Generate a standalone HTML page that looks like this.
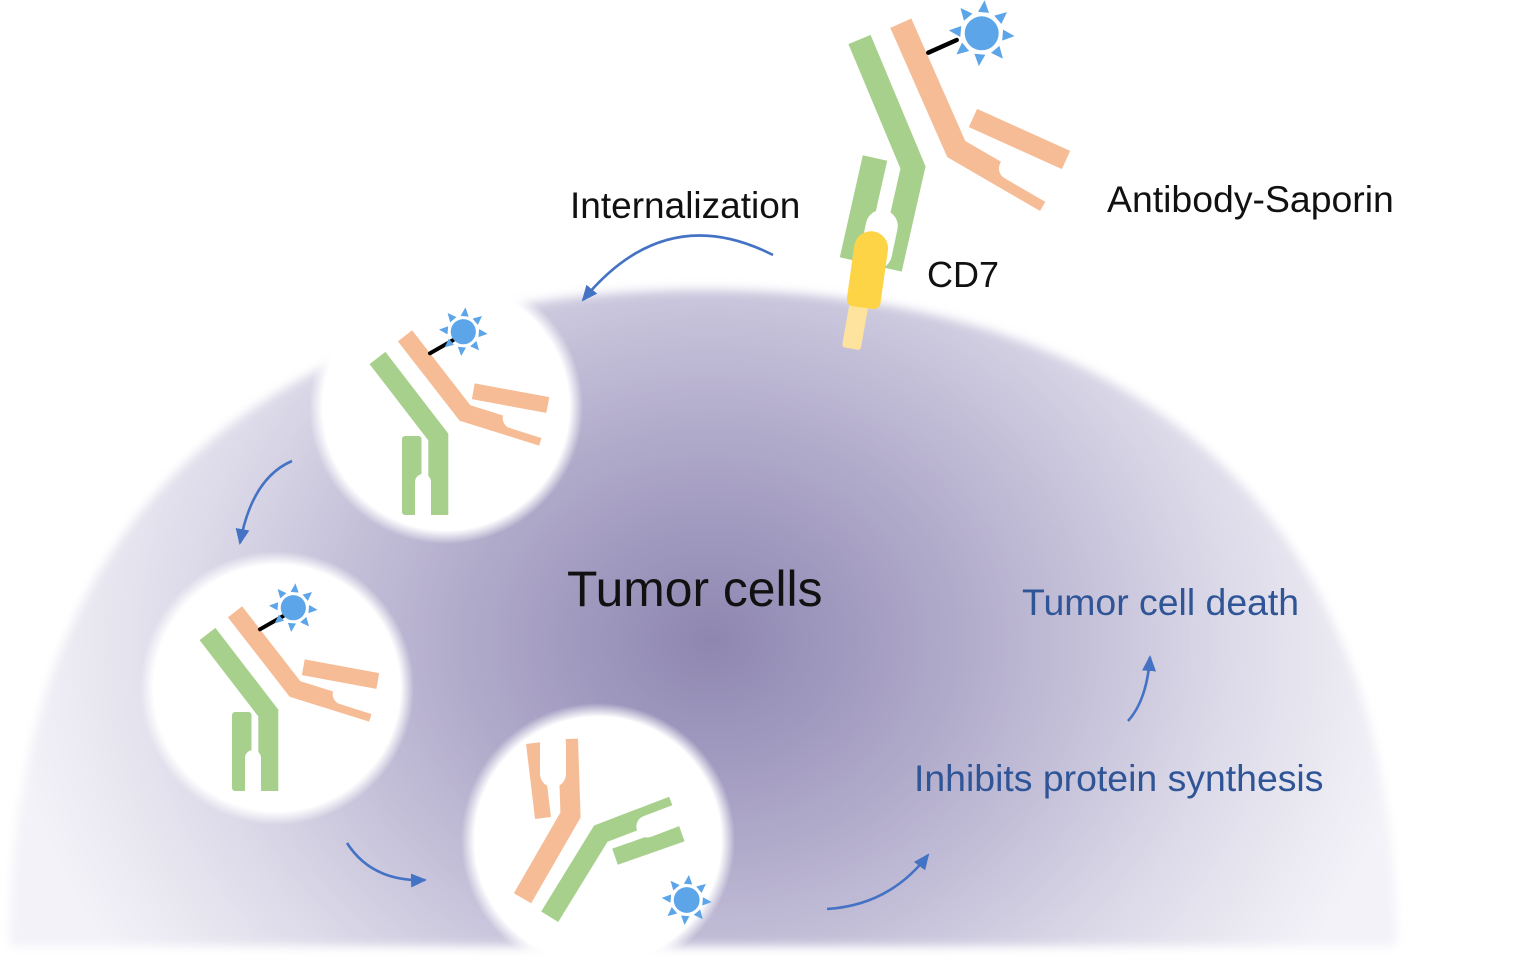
<!DOCTYPE html>
<html>
<head>
<meta charset="utf-8">
<style>
html,body{margin:0;padding:0;background:#fff;}
svg{display:block;}
text{font-family:"Liberation Sans",Arial,sans-serif;}
</style>
</head>
<body>
<svg width="1516" height="957" viewBox="0 0 1516 957" xmlns="http://www.w3.org/2000/svg">
<defs>
  <radialGradient id="dg" gradientUnits="userSpaceOnUse" cx="710" cy="640" r="700" gradientTransform="matrix(1 0 0 0.85 0 96)">
    <stop offset="0" stop-color="#8e86af"/>
    <stop offset="0.15" stop-color="#9c95bc"/>
    <stop offset="0.35" stop-color="#b0aaca"/>
    <stop offset="0.55" stop-color="#c6c2da"/>
    <stop offset="0.75" stop-color="#dddbe9"/>
    <stop offset="0.9" stop-color="#eae9f2"/>
    <stop offset="1" stop-color="#f3f2f8"/>
  </radialGradient>
  <radialGradient id="wc">
    <stop offset="0.9" stop-color="#fff" stop-opacity="1"/>
    <stop offset="1" stop-color="#fff" stop-opacity="0"/>
  </radialGradient>
  <filter id="bl" filterUnits="userSpaceOnUse" x="-40" y="200" width="1600" height="800">
    <feGaussianBlur stdDeviation="5"/>
  </filter>
  <marker id="ah" viewBox="0 0 16 14" markerUnits="userSpaceOnUse" markerWidth="16" markerHeight="14" refX="14" refY="7" orient="auto">
    <path d="M0,0 L16,7 L0,14 z" fill="#4472c4"/>
  </marker>
  <g id="sun" fill="#5ca5e8">
    <circle r="17"/>
    <polygon points="0,-33 -5.5,-21 5.5,-21" transform="rotate(5)"/>
    <polygon points="0,-33 -5.5,-21 5.5,-21" transform="rotate(50)"/>
    <polygon points="0,-33 -5.5,-21 5.5,-21" transform="rotate(95)"/>
    <polygon points="0,-33 -5.5,-21 5.5,-21" transform="rotate(140)"/>
    <polygon points="0,-33 -5.5,-21 5.5,-21" transform="rotate(185)"/>
    <polygon points="0,-33 -5.5,-21 5.5,-21" transform="rotate(230)"/>
    <polygon points="0,-33 -5.5,-21 5.5,-21" transform="rotate(275)"/>
    <polygon points="0,-33 -5.5,-21 5.5,-21" transform="rotate(320)"/>
  </g>
  <g id="ab1">
    <!-- green -->
    <polyline points="377.5,358 438.3,437 438.3,515" fill="none" stroke="#a8d08d" stroke-width="20" stroke-linejoin="miter" stroke-miterlimit="10"/>
    <rect x="402" y="436" width="19.5" height="79" rx="3" fill="#a8d08d"/>
    <rect x="415" y="474" width="16" height="48" rx="8" fill="#fff"/>
    <!-- orange -->
    <polyline points="405,335.8 465,413 541.8,437" fill="none" stroke="#f5bc96" stroke-width="18" stroke-linejoin="miter" stroke-miterlimit="10"/>
    <line x1="473.3" y1="391.3" x2="547.8" y2="405" stroke="#f5bc96" stroke-width="16"/>
    <g transform="translate(465,413) rotate(17.4)">
      <rect x="37" y="-20" width="55" height="21" rx="10.5" fill="#fff"/>
    </g>
    <line x1="430" y1="353.3" x2="453.3" y2="340" stroke="#000" stroke-width="4" stroke-linecap="round"/>
    <use href="#sun" transform="translate(463.3,331.7) scale(0.74)"/>
  </g>
</defs>

<rect width="1516" height="957" fill="#fff"/>

<!-- tumor cell dome -->
<g filter="url(#bl)">
  <path d="M10,946 C10,480 306,290 703,290 C1100,290 1396,480 1396,946 Z" fill="url(#dg)"/>
</g>

<!-- white vesicles -->
<circle cx="446" cy="407" r="137" fill="url(#wc)"/>
<circle cx="277" cy="688" r="137" fill="url(#wc)"/>
<circle cx="598" cy="840" r="137" fill="url(#wc)"/>

<!-- arrows -->
<g fill="none" stroke="#4472c4" stroke-width="2.6">
  <path d="M773,255 Q665,200 583,300" marker-end="url(#ah)"/>
  <path d="M292,461 Q252,478 240,543" marker-end="url(#ah)"/>
  <path d="M347,843 Q372,882 425,880" marker-end="url(#ah)"/>
  <path d="M827,909 Q890,905 928,855" marker-end="url(#ah)"/>
  <path d="M1128,721 Q1147,700 1150,657" marker-end="url(#ah)"/>
</g>

<!-- top antibody -->
<polyline points="859.5,39.5 913,167.5 890,269" fill="none" stroke="#a8d08d" stroke-width="24" stroke-linejoin="miter" stroke-miterlimit="10"/>
<line x1="875" y1="158" x2="852" y2="260" stroke="#a8d08d" stroke-width="25"/>
<g transform="translate(882,225) rotate(12)">
  <rect x="-16" y="-15" width="32" height="60" rx="16" fill="#fff"/>
</g>
<g transform="translate(855,327) rotate(10)">
  <rect x="-9.5" y="-22" width="19" height="44" rx="3" fill="#fde39d"/>
</g>
<g transform="translate(868,270) rotate(8)">
  <path d="M-17,-22 A17,17 0 0 1 17,-22 L17,30 Q17,38 9,38 L-9,38 Q-17,38 -17,30 Z" fill="#fdd446"/>
</g>
<polyline points="900.8,23.2 956.3,149.1 1045.8,201" fill="none" stroke="#f5bc96" stroke-width="23" stroke-linejoin="miter" stroke-miterlimit="10"/>
<line x1="973" y1="118" x2="1066" y2="160" stroke="#f5bc96" stroke-width="20"/>
<g transform="translate(956.3,149.1) rotate(30.1)">
  <rect x="45" y="-22" width="90" height="23" rx="11.5" fill="#fff"/>
</g>
<line x1="928.3" y1="52.7" x2="956.7" y2="40" stroke="#000" stroke-width="4.5" stroke-linecap="round"/>
<use href="#sun" transform="translate(981.7,33.3)"/>

<!-- vesicle 1 & 2 antibodies -->
<use href="#ab1"/>
<use href="#ab1" transform="translate(-170,276)"/>

<!-- vesicle 3 antibody (released) -->
<polyline points="568,739 570.5,815 522.5,898.3" fill="none" stroke="#f5bc96" stroke-width="20" stroke-linejoin="miter" stroke-miterlimit="10"/>
<line x1="534" y1="743" x2="543" y2="818" stroke="#f5bc96" stroke-width="16"/>
<rect x="540" y="730" width="26" height="57" rx="13" fill="#fff"/>
<polyline points="549.7,916.7 600.8,833.6 672.7,806.1" fill="none" stroke="#a8d08d" stroke-width="20" stroke-linejoin="miter" stroke-miterlimit="10"/>
<line x1="615" y1="856.7" x2="681.7" y2="833.3" stroke="#a8d08d" stroke-width="17"/>
<g transform="translate(600.8,833.6) rotate(-20.9)">
  <rect x="35" y="-1" width="60" height="22" rx="11" fill="#fff"/>
</g>
<use href="#sun" transform="translate(686.7,900) scale(0.76)"/>

<!-- labels -->
<text x="570" y="218" font-size="37" fill="#111">Internalization</text>
<text x="1107" y="212" font-size="37.4" fill="#111">Antibody-Saporin</text>
<text x="927" y="287" font-size="36" fill="#111">CD7</text>
<text x="567" y="606" font-size="49.8" fill="#111">Tumor cells</text>
<text x="1022" y="615" font-size="37.4" fill="#2f5597">Tumor cell death</text>
<text x="914" y="791" font-size="37.4" fill="#2f5597">Inhibits protein synthesis</text>
</svg>
</body>
</html>
